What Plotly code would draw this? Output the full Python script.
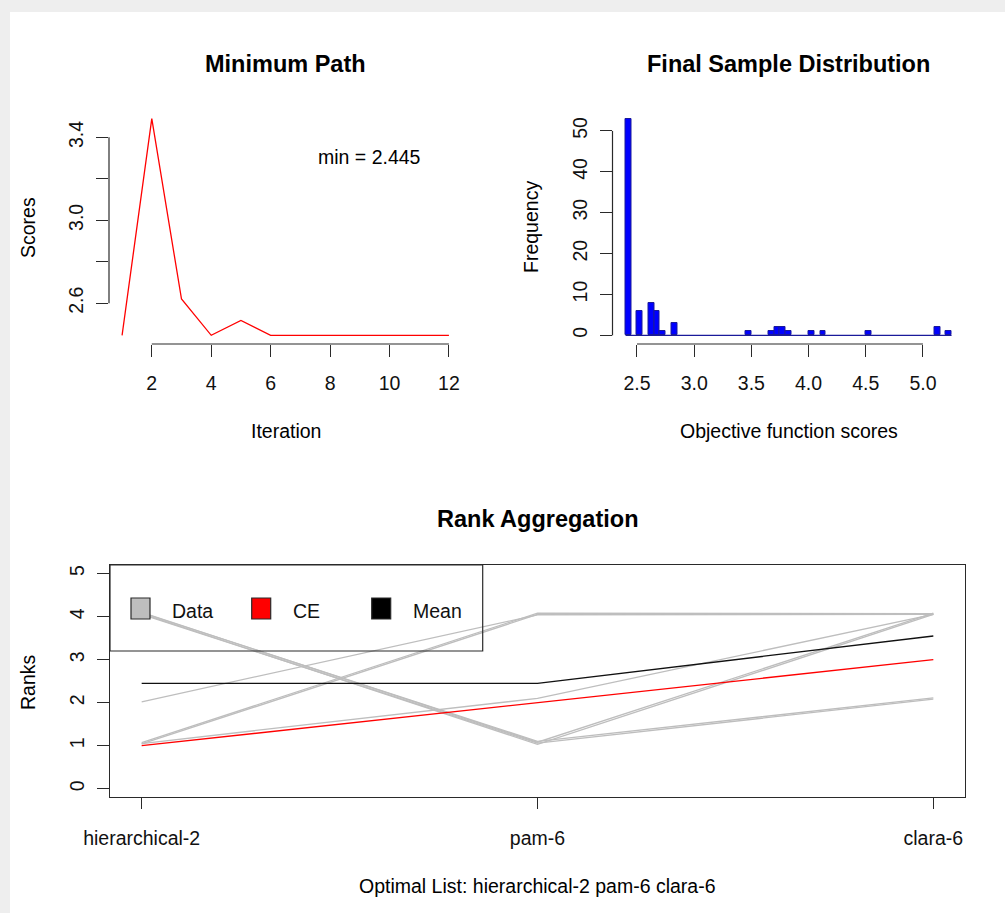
import numpy as np
import plotly.graph_objects as go

W, H = 1005, 913

# ---- Minimum path: best objective score at each iteration ----
iterations = list(range(1, 13))
min_scores = [2.445, 3.49, 2.62, 2.445, 2.517, 2.445, 2.445, 2.445, 2.445, 2.445, 2.445, 2.445]
min_label = "min = 2.445"

# ---- Final sample distribution: histogram bins of width 0.05 ----
bin_width = 0.05
bin_lefts = [2.40, 2.50, 2.60, 2.65, 2.70, 2.80, 3.45, 3.65, 3.70, 3.75, 3.80, 4.00, 4.10, 4.50, 5.10, 5.20]
bin_counts = [53, 6, 8, 6, 1, 3, 1, 1, 2, 2, 1, 1, 1, 1, 2, 1]
hist_breaks = [2.40, 5.25]

# ---- Rank aggregation ----
methods = ["hierarchical-2", "pam-6", "clara-6"]
data_ranks = [
    [4.05, 1.06, 2.08],
    [4.09, 1.10, 2.11],
    [4.07, 1.03, 4.05],
    [4.10, 1.08, 4.08],
    [1.04, 4.05, 4.05],
    [1.07, 4.08, 4.07],
    [2.02, 4.04, 4.05],
    [1.05, 2.10, 4.05],
]
ce_ranks = [1, 2, 3]
mean_ranks = [2.45, 2.45, 3.55]
optimal_list = "Optimal List: " + " ".join(methods)

FONT = "Liberation Sans, Arial, sans-serif"
INK = "#111111"
AX = "#2a2a2a"
FS = 19.5
FS_TITLE = 23.5


def px(x):
    return x / W


def py(y):
    return 1 - y / H


# plot regions in pixels (left, top, right, bottom)
TL = (109, 110, 462, 344)
TR = (612.5, 110, 964.6, 344)
BT = (110, 565, 965, 797.3)

fig = go.Figure()

fig.add_trace(go.Scatter(x=iterations, y=min_scores, mode="lines",
                         line=dict(color="#ff0000", width=1.3),
                         xaxis="x", yaxis="y", showlegend=False))

# histogram bars
centers = [b + bin_width / 2 for b in bin_lefts]
fig.add_trace(go.Bar(x=centers, y=bin_counts, width=bin_width,
                     marker=dict(color="#0000ff", line=dict(color="#1a1a9a", width=1)),
                     xaxis="x2", yaxis="y2", showlegend=False))
# empty bins collapse onto the baseline
fig.add_trace(go.Scatter(x=hist_breaks, y=[0, 0], mode="lines",
                         line=dict(color="#1a1a9a", width=1.2),
                         xaxis="x2", yaxis="y2", showlegend=False))

xs = [1, 2, 3]
for r in data_ranks:
    fig.add_trace(go.Scatter(x=xs, y=r, mode="lines",
                             line=dict(color="#bebebe", width=1.3),
                             xaxis="x3", yaxis="y3", showlegend=False))
fig.add_trace(go.Scatter(x=xs, y=ce_ranks, mode="lines",
                         line=dict(color="#ff0000", width=1.3),
                         xaxis="x3", yaxis="y3", showlegend=False))
fig.add_trace(go.Scatter(x=xs, y=mean_ranks, mode="lines",
                         line=dict(color="#111111", width=1.3),
                         xaxis="x3", yaxis="y3", showlegend=False))

tickfont = dict(family=FONT, size=FS, color=INK)
common = dict(showgrid=False, zeroline=False, ticks="outside", tickcolor=AX,
              tickwidth=1.2, tickfont=tickfont, automargin=False)


def xdom(r):
    return [px(r[0]), px(r[2])]


def ydom(r):
    return [py(r[3]), py(r[1])]


fig.update_layout(
    width=W, height=H,
    margin=dict(l=0, r=0, t=0, b=0, autoexpand=False),
    paper_bgcolor="#eeeeee",
    plot_bgcolor="white",
    xaxis=dict(domain=xdom(TL), range=[0.56, 12.44], tickvals=[2, 4, 6, 8, 10, 12],
               ticklen=12, ticklabelstandoff=10, showline=False, anchor="y", **common),
    yaxis=dict(domain=ydom(TL), range=[2.403, 3.532], tickvals=[2.6, 2.8, 3.0, 3.2, 3.4],
               ticktext=["2.6", "", "3.0", "", "3.4"], tickangle=-90,
               ticklen=12, ticklabelstandoff=5, showline=False, anchor="x", **common),
    xaxis2=dict(domain=xdom(TR), range=[2.286, 5.364], tickvals=[2.5, 3.0, 3.5, 4.0, 4.5, 5.0],
                tickformat=".1f", ticklen=12, ticklabelstandoff=10, showline=False,
                anchor="y2", **common),
    yaxis2=dict(domain=ydom(TR), range=[-2.12, 55.12], tickvals=[0, 10, 20, 30, 40, 50],
                tickangle=-90, ticklen=12, ticklabelstandoff=5, showline=False,
                anchor="x2", **common),
    xaxis3=dict(domain=xdom(BT), range=[0.92, 3.08], tickvals=xs, ticktext=methods,
                ticklen=11, ticklabelstandoff=12, showline=True, mirror=True,
                linecolor=AX, linewidth=1.2, anchor="y3", **common),
    yaxis3=dict(domain=ydom(BT), range=[-0.2, 5.2], tickvals=[0, 1, 2, 3, 4, 5],
                tickangle=-90, ticklen=12, ticklabelstandoff=5, showline=True, mirror=True,
                linecolor=AX, linewidth=1.2, anchor="x3", **common),
    bargap=0,
)

shapes = [
    # white panel
    dict(type="rect", xref="paper", yref="paper", x0=px(10), x1=1, y0=0, y1=py(12),
         fillcolor="white", line=dict(width=0), layer="below"),
    # axis lines spanning the tick range
    dict(type="line", xref="x", yref="paper", x0=2, x1=12, y0=py(TL[3]), y1=py(TL[3]),
         line=dict(color=AX, width=1.2)),
    dict(type="line", xref="paper", yref="y", x0=px(TL[0]), x1=px(TL[0]), y0=2.6, y1=3.4,
         line=dict(color=AX, width=1.2)),
    dict(type="line", xref="x2", yref="paper", x0=2.5, x1=5.0, y0=py(TR[3]), y1=py(TR[3]),
         line=dict(color=AX, width=1.2)),
    dict(type="line", xref="paper", yref="y2", x0=px(TR[0]), x1=px(TR[0]), y0=0, y1=50,
         line=dict(color=AX, width=1.2)),
    # legend frame
    dict(type="rect", xref="paper", yref="paper", x0=px(110), x1=px(482.7), y0=py(651), y1=py(565),
         line=dict(color=AX, width=1.2), fillcolor="rgba(0,0,0,0)", layer="above"),
]

legend_items = [("Data", "#bebebe", 131, 170), ("CE", "#ff0000", 251.7, 290.7), ("Mean", "#000000", 371.7, 411)]
annotations = []
for label, col, sx, tx in legend_items:
    shapes.append(dict(type="rect", xref="paper", yref="paper", x0=px(sx), x1=px(sx + 19),
                       y0=py(619), y1=py(598), fillcolor=col, line=dict(color=AX, width=1.2),
                       layer="above"))
    annotations.append(dict(x=px(tx), y=py(610.5), xref="paper", yref="paper", text=label,
                            showarrow=False, xanchor="left", yanchor="middle",
                            font=dict(family=FONT, size=FS, color=INK)))


def text(x, y, s, size=FS, angle=0, bold=False):
    annotations.append(dict(x=px(x), y=py(y), xref="paper", yref="paper",
                            text=f"<b>{s}</b>" if bold else s, showarrow=False,
                            xanchor="center", yanchor="middle", textangle=angle,
                            font=dict(family=FONT, size=size, color="#000000")))


text(285.5, 64, "Minimum Path", FS_TITLE, bold=True)
text(788.5, 64, "Final Sample Distribution", FS_TITLE, bold=True)
text(537.5, 519, "Rank Aggregation", FS_TITLE, bold=True)
text(369, 157, min_label)
text(285.5, 431, "Iteration")
text(788.5, 431, "Objective function scores")
text(537.5, 886, optimal_list)
text(28, 228, "Scores", angle=-90)
text(531, 227, "Frequency", angle=-90)
text(28, 682, "Ranks", angle=-90)

fig.update_layout(shapes=shapes, annotations=annotations)
fig.write_html("out.html")
